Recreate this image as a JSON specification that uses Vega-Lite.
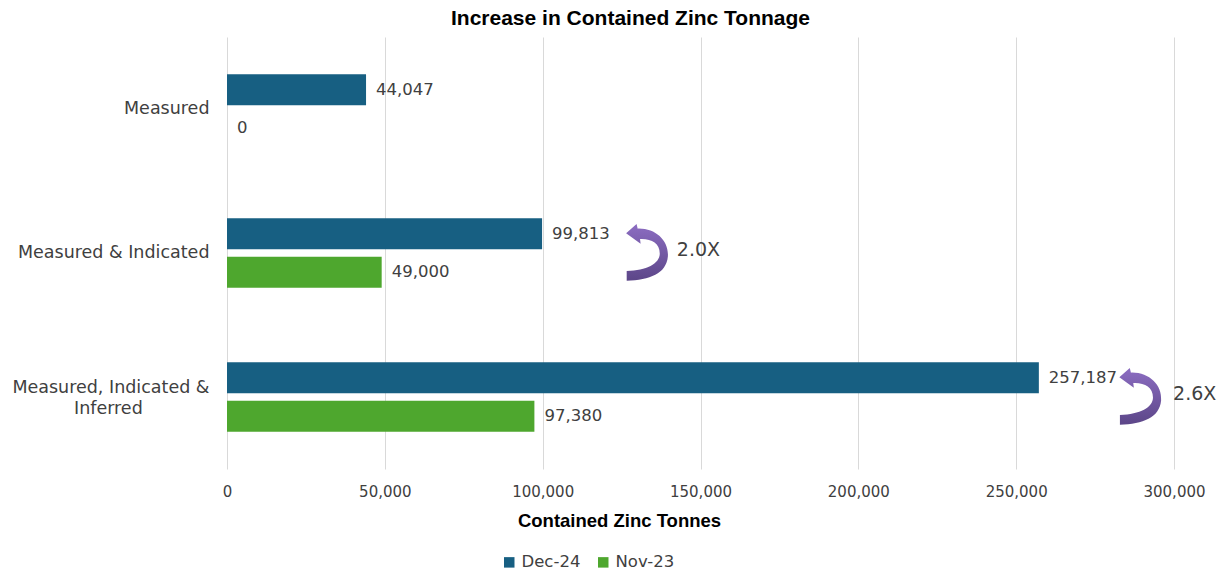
{
  "$schema": "https://vega.github.io/schema/vega-lite/v6.json",
  "autosize": {"type": "none"},
  "width": 947,
  "height": 432,
  "padding": {"left": 227, "top": 37, "right": 51, "bottom": 102},
  "background": "white",
  "title": {
    "text": "Increase in Contained Zinc Tonnage",
    "font": "Liberation Sans",
    "fontSize": 21,
    "fontWeight": "bold",
    "color": "#000000",
    "anchor": "middle",
    "dx": -70,
    "offset": 8
  },
  "config": {
    "view": {"stroke": null},
    "font": "DejaVu Sans"
  },
  "datasets": {
    "bars": [
      {"category": "Measured", "series": "Dec-24", "value": 44047},
      {"category": "Measured", "series": "Nov-23", "value": 0},
      {"category": "Measured & Indicated", "series": "Dec-24", "value": 99813},
      {"category": "Measured & Indicated", "series": "Nov-23", "value": 49000},
      {"category": "Measured, Indicated & Inferred", "series": "Dec-24", "value": 257187},
      {"category": "Measured, Indicated & Inferred", "series": "Nov-23", "value": 97380}
    ],
    "arrows": [
      {"category": "Measured & Indicated", "value": 133050},
      {"category": "Measured, Indicated & Inferred", "value": 289300}
    ],
    "notes": [
      {"category": "Measured & Indicated", "value": 142500, "label": "2.0X"},
      {"category": "Measured, Indicated & Inferred", "value": 299700, "label": "2.6X"}
    ]
  },
  "encoding": {
    "y": {
      "field": "category",
      "type": "nominal",
      "sort": ["Measured", "Measured & Indicated", "Measured, Indicated & Inferred"],
      "scale": {"paddingInner": 0.516, "paddingOuter": 0.258},
      "axis": {
        "title": null,
        "domain": false,
        "ticks": false,
        "labelFontSize": 17.5,
        "labelColor": "#404040",
        "labelPadding": 18,
        "labelLimit": 300,
        "labelLineHeight": 21,
        "labelOffset": {"condition": {"test": "datum.value == 'Measured, Indicated & Inferred'", "value": -9}, "value": 0},
        "labelExpr": "datum.value == 'Measured, Indicated & Inferred' ? ['Measured, Indicated  &', 'Inferred\u00a0\u00a0\u00a0\u00a0\u00a0\u00a0\u00a0\u00a0\u00a0\u00a0\u00a0\u00a0\u200b'] : datum.value"
      }
    },
    "x": {
      "field": "value",
      "type": "quantitative",
      "scale": {"domain": [0, 300000], "nice": false},
      "axis": {
        "title": "Contained Zinc Tonnes",
        "titleFont": "Liberation Sans",
        "titleFontSize": 18.5,
        "titleFontWeight": "bold",
        "titleColor": "#000000",
        "titleX": 392,
        "titlePadding": 12,
        "values": [0, 50000, 100000, 150000, 200000, 250000, 300000],
        "format": ",.0f",
        "labelFlush": false,
        "labelOverlap": false,
        "domain": false,
        "ticks": false,
        "grid": true,
        "gridColor": "#d9d9d9",
        "gridWidth": 1,
        "labelFontSize": 15,
        "labelColor": "#404040",
        "labelPadding": 15
      }
    }
  },
  "layer": [
    {
      "data": {"name": "bars"},
      "mark": {"type": "bar"},
      "encoding": {
        "yOffset": {
          "field": "series",
          "type": "nominal",
          "sort": ["Dec-24", "Nov-23"],
          "scale": {"paddingInner": 0.2, "paddingOuter": 0}
        },
        "color": {
          "field": "series",
          "type": "nominal",
          "scale": {"domain": ["Dec-24", "Nov-23"], "range": ["#175f82", "#4ea72e"]},
          "legend": {
            "title": null,
            "orient": "none",
            "legendX": 274,
            "legendY": 517,
            "direction": "horizontal",
            "symbolType": "square",
            "symbolSize": 110,
            "symbolStrokeWidth": 0,
            "labelFontSize": 16.5,
            "labelColor": "#404040",
            "labelOffset": 4,
            "columnPadding": 14
          }
        }
      }
    },
    {
      "data": {"name": "bars"},
      "mark": {"type": "text", "align": "left", "baseline": "middle", "dx": 10, "fontSize": 16.5, "color": "#404040"},
      "encoding": {
        "yOffset": {"field": "series", "type": "nominal", "sort": ["Dec-24", "Nov-23"]},
        "text": {"field": "value", "type": "quantitative", "format": ","}
      }
    },
    {
      "data": {"name": "arrows"},
      "mark": {
        "type": "point",
        "filled": true,
        "opacity": 1,
        "strokeWidth": 0,
        "size": 3364,
        "shape": "M -0.72 -0.68 L -0.36 -1.0 L -0.32 -0.84 C 0.3 -0.86 0.76 -0.42 0.72 0.12 C 0.66 0.72 0.1 0.92 -0.7 0.96 L -0.7 0.62 C 0.0 0.6 0.44 0.36 0.44 0.02 C 0.44 -0.34 0.14 -0.5 -0.24 -0.48 L -0.22 -0.32 Z",
        "fill": {
          "gradient": "linear",
          "x1": 0, "y1": 0, "x2": 0, "y2": 1,
          "stops": [
            {"offset": 0, "color": "#8c6dc2"},
            {"offset": 1, "color": "#5c4688"}
          ]
        }
      },
      "encoding": {}
    },
    {
      "data": {"name": "notes"},
      "mark": {"type": "text", "align": "left", "baseline": "middle", "dy": -3, "fontSize": 19, "color": "#404040"},
      "encoding": {
        "text": {"field": "label", "type": "nominal"}
      }
    }
  ]
}
